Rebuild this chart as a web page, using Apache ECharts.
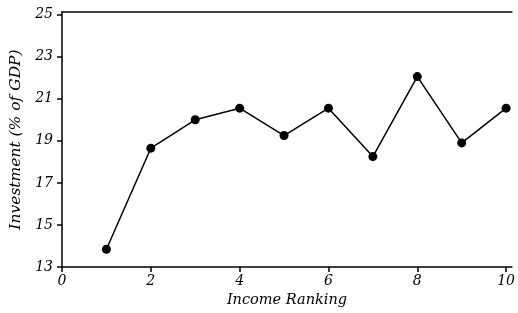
<!DOCTYPE html>
<html><head><meta charset="utf-8">
<script src="https://cdn.jsdelivr.net/npm/echarts@6/dist/echarts.min.js"></script>
<style>html,body{margin:0;padding:0;background:#fff}#c{width:518px;height:313px}</style>
</head><body><div id="c"></div>
<script>
const incomeRanking = [1, 2, 3, 4, 5, 6, 7, 8, 9, 10];
const investment = [13.85, 18.65, 20.0, 20.55, 19.25, 20.55, 18.25, 22.05, 18.9, 20.55];
const xLabel = 'Income Ranking';
const yLabel = 'Investment (% of GDP)';
const fontFam = '"DejaVu Serif", "Liberation Serif", serif';
const chart = echarts.init(document.getElementById('c'));
const axisText = {fontFamily: fontFam, fontStyle: 'italic', fontSize: 14, color: '#000'};
const xMin = 0, xMax = 10.13, yMin = 13, yMax = 25.12;
chart.setOption({
  animation: false,
  grid: {left: 60, right: 0, top: 12, bottom: 40, containLabel: false},
  xAxis: [{
    type: 'value', min: xMin, max: xMax, interval: 2,
    name: xLabel, nameLocation: 'middle', nameGap: 23,
    nameTextStyle: {...axisText, fontSize: 14.5},
    axisLine: {lineStyle: {color: '#000', width: 1.5}},
    axisTick: {show: true, length: 5, lineStyle: {color: '#000', width: 1.5}},
    axisLabel: {...axisText, margin: 7, showMaxLabel: false,
      formatter: v => (v % 2 === 0 ? String(v) : '')},
    splitLine: {show: false}
  }, {
    type: 'value', position: 'top', min: xMin, max: xMax, interval: 2,
    axisLine: {show: true, lineStyle: {color: '#000', width: 1.5}},
    axisTick: {show: false}, axisLabel: {show: false}, splitLine: {show: false}
  }],
  yAxis: {
    type: 'value', min: yMin, max: yMax, interval: 2,
    name: yLabel, nameLocation: 'middle', nameGap: 38,
    nameTextStyle: {...axisText, fontSize: 15.5},
    axisLine: {show: true, lineStyle: {color: '#000', width: 1.5}},
    axisTick: {show: true, length: 5, lineStyle: {color: '#000', width: 1.5}},
    axisLabel: {...axisText, margin: 9, showMaxLabel: false},
    splitLine: {show: false}
  },
  series: [{
    type: 'line',
    data: incomeRanking.map((x, i) => [x, investment[i]]),
    symbol: 'circle', symbolSize: 9,
    lineStyle: {color: '#000', width: 1.5},
    itemStyle: {color: '#000'}
  }]
});
</script></body></html>
